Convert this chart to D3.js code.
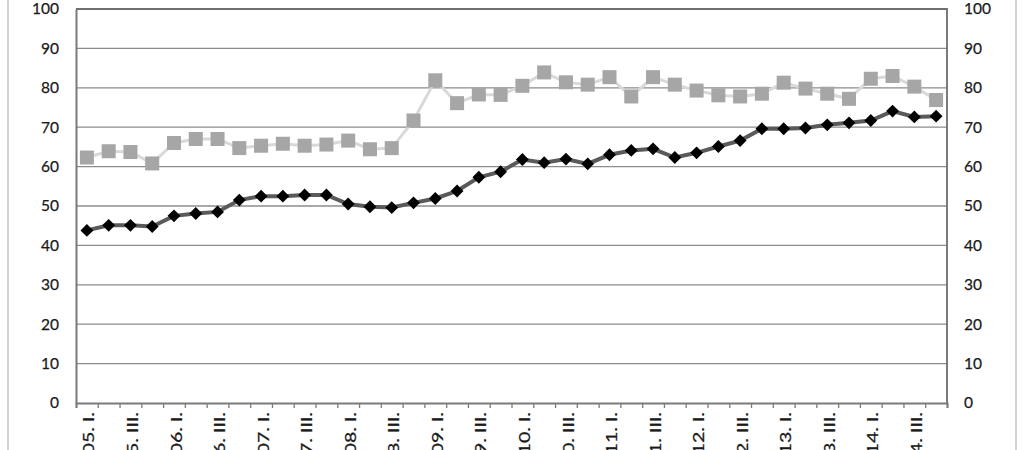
<!DOCTYPE html>
<html>
<head>
<meta charset="utf-8">
<script src="https://cdn.jsdelivr.net/npm/d3@7"></script>
<style>
  html, body { margin: 0; padding: 0; background: #fff; }
  svg { display: block; font-family: Lato, "Open Sans", sans-serif; }
</style>
</head>
<body>
<svg id="chart" width="1024" height="450"></svg>
<script>
const years = ["2005","2006","2007","2008","2009","2010","2011","2012","2013","2014"];
const quarters = ["I.","II.","III.","IV."];
const categories = [];
years.forEach(y => quarters.forEach(q => categories.push(y + ". " + q)));

const seriesDark = [43.8,45.1,45.1,44.8,47.5,48.1,48.5,51.5,52.5,52.5,
                    52.8,52.8,50.5,49.8,49.6,50.8,51.9,53.8,57.3,58.7,
                    61.8,61.0,61.9,60.7,63.0,64.1,64.5,62.3,63.5,65.1,
                    66.6,69.6,69.6,69.8,70.6,71.1,71.7,74.1,72.6,72.8];
const seriesLight = [62.3,63.9,63.7,60.8,66.0,67.0,67.0,64.7,65.3,65.8,
                     65.3,65.6,66.6,64.4,64.7,71.7,81.9,76.1,78.3,78.2,
                     80.5,83.9,81.4,80.8,82.7,77.8,82.7,80.8,79.3,78.1,
                     77.8,78.5,81.3,79.8,78.5,77.2,82.3,83.0,80.3,76.9];
const yTicks = [0,10,20,30,40,50,60,70,80,90,100];

const svg = d3.select("#chart");
const L = 76, R = 947, T = 9, B = 403;

const x = d3.scaleBand().domain(categories).range([L, R]).padding(0);
const xi = d3.scaleLinear().domain([0, categories.length]).range([L, R]);
const y = d3.scaleLinear().domain([0, 100]).range([B, T]);
const cx = c => x(c) + x.bandwidth() / 2;

// outer frame lines
svg.append("line").attr("x1", 8).attr("x2", 8).attr("y1", 0).attr("y2", 450)
  .attr("stroke", "#c4c4c4").attr("stroke-width", 1.5);
svg.append("line").attr("x1", 1016).attr("x2", 1016).attr("y1", 0).attr("y2", 450)
  .attr("stroke", "#c4c4c4").attr("stroke-width", 1.5);

// gridlines
svg.append("g").selectAll("line").data(yTicks.filter(v => v > 0 && v < 100)).join("line")
  .attr("x1", L).attr("x2", R)
  .attr("y1", d => y(d)).attr("y2", d => y(d))
  .attr("stroke", "#8c8c8c").attr("stroke-width", 1.3);

// plot border (top, right)
svg.append("path")
  .attr("d", `M${L},${y(100)}H${R}V${y(0)}`)
  .attr("fill", "none").attr("stroke", "#6e6e6e").attr("stroke-width", 1.8);

const fontFam = "Lato, 'Open Sans', sans-serif";

// left axis
const gl = svg.append("g").attr("transform", `translate(${L},0)`)
  .call(d3.axisLeft(y).tickValues(yTicks).tickSize(0).tickPadding(17).tickFormat(d3.format("d")));
gl.select(".domain").attr("stroke", "#7a7a7a").attr("stroke-width", 2);
gl.selectAll("text").attr("font-size", "15.5px").attr("fill", "#1a1a1a")
  .attr("stroke", "#1a1a1a").attr("stroke-width", 0.25)
  .attr("font-family", fontFam);

// right axis
const gr = svg.append("g").attr("transform", `translate(${R},0)`)
  .call(d3.axisRight(y).tickValues(yTicks).tickSize(0).tickPadding(17).tickFormat(d3.format("d")));
gr.select(".domain").remove();
gr.selectAll("text").attr("font-size", "15.5px").attr("fill", "#1a1a1a")
  .attr("stroke", "#1a1a1a").attr("stroke-width", 0.25)
  .attr("font-family", fontFam);

// bottom axis ticks at category boundaries
const gb = svg.append("g").attr("transform", `translate(0,${B})`)
  .call(d3.axisBottom(xi).tickValues(d3.range(categories.length + 1)).tickSize(5).tickFormat(""));
gb.select(".domain").attr("stroke", "#7a7a7a").attr("stroke-width", 2);
gb.selectAll(".tick line").attr("stroke", "#7a7a7a").attr("stroke-width", 1.3);

// category labels (every other)
svg.append("g").selectAll("text").data(categories.filter((c, i) => i % 2 === 0)).join("text")
  .attr("transform", c => `translate(${cx(c) + 2.5},412) rotate(-90) scale(1.35,1)`)
  .attr("text-anchor", "end")
  .attr("dy", "0.35em")
  .attr("font-size", "14.5px")
  .attr("fill", "#1a1a1a")
  .attr("stroke", "#1a1a1a").attr("stroke-width", 0.25)
  .text(c => c);

// light series
const lineGen = d3.line().x((d, i) => cx(categories[i])).y(d => y(d));
svg.append("path").datum(seriesLight).attr("d", lineGen)
  .attr("fill", "none").attr("stroke", "#d9d9d9").attr("stroke-width", 3);
svg.append("g").selectAll("rect").data(seriesLight).join("rect")
  .attr("x", (d, i) => cx(categories[i]) - 7)
  .attr("y", d => y(d) - 7)
  .attr("width", 14).attr("height", 14)
  .attr("fill", "#a6a6a6");

// dark series
svg.append("path").datum(seriesDark).attr("d", lineGen)
  .attr("fill", "none").attr("stroke", "#5a5a5a").attr("stroke-width", 4);
const dsym = d3.symbol().type(d3.symbolDiamond2).size(105);
svg.append("g").selectAll("path").data(seriesDark).join("path")
  .attr("transform", (d, i) => `translate(${cx(categories[i])},${y(d)})`)
  .attr("d", dsym)
  .attr("fill", "#000");
</script>
</body>
</html>
